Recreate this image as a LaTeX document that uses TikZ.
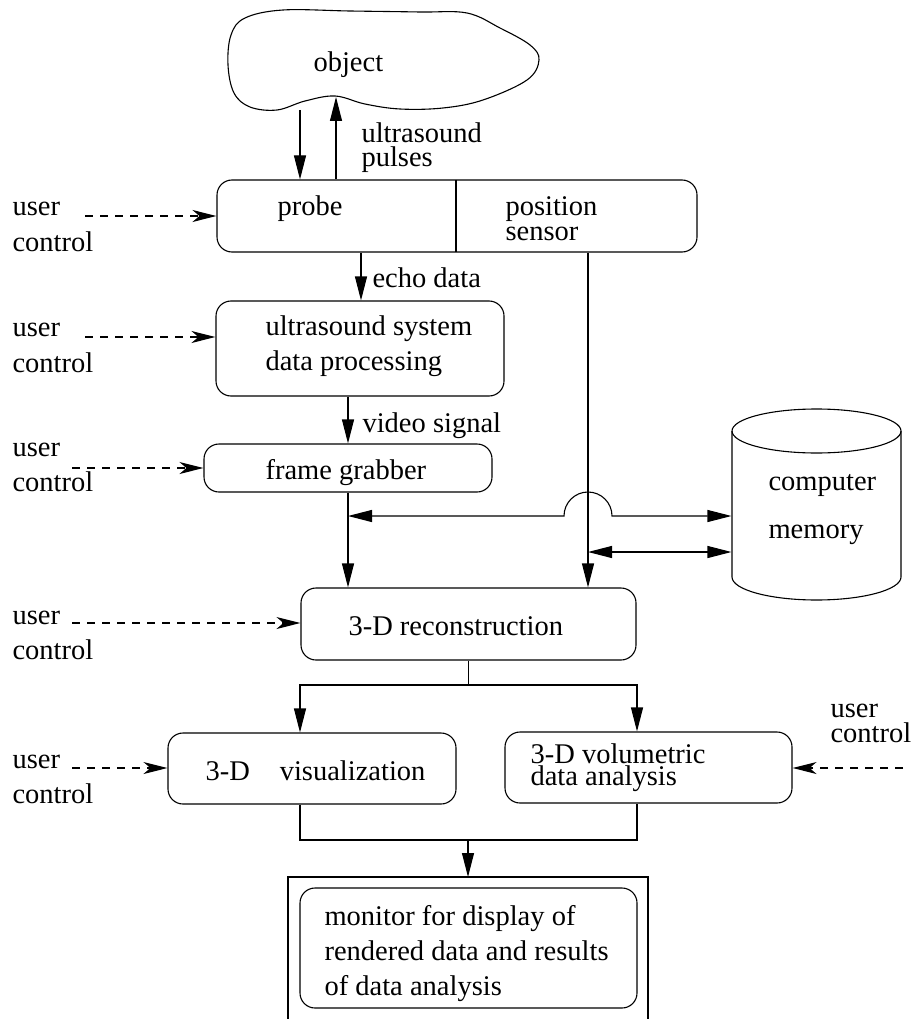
\documentclass[tikz,border=0pt]{standalone}
\usepackage{fontspec}
\setmainfont{Liberation Serif}
\usetikzlibrary{arrows.meta,calc}
\begin{document}
\begin{tikzpicture}[x=1pt,y=-1pt,line width=1.1pt,
  box/.style={draw,rounded corners=15pt,inner sep=0pt},
  txt/.style={anchor=base west,inner sep=0pt,font=\fontsize{28.5}{35}\selectfont},
  tight/.style={text depth=0pt},
  arr/.style={-{Triangle[length=24pt,width=12pt]}},
  darr/.style={{Triangle[length=24pt,width=12pt]}-{Triangle[length=24pt,width=12pt]}},
  uc/.style={dash pattern=on 8pt off 7pt,-{Stealth[length=24pt,width=12pt,inset=7pt]}}]
\useasboundingbox (0,0) rectangle (911,1019);

% object cloud
\draw plot[smooth cycle,tension=0.6] coordinates {(245,18) (283,10) (350,11) (420,12) (467,13) (500,28) (530,45) (539,60) (527,80) (483,100) (443,108) (400,109) (365,104) (335,96) (305,101) (277,110) (250,107) (234,93) (228,65) (231,35)};
\node[txt] (tobj) at (313,72) {object};
\coordinate (ob1) at (300,110);
\coordinate (ob2) at (336,97);

% boxes
\node[box,minimum width=480pt,minimum height=72pt] (probe) at (457,216) {};
\draw (456,180) -- (456,252);
\node[box,minimum width=288pt,minimum height=95pt] (us) at (360,348.5) {};
\node[box,minimum width=288pt,minimum height=48pt] (fg) at (348,468) {};
\node[box,minimum width=335pt,minimum height=72pt] (recon) at (468.5,624) {};
\node[box,minimum width=288pt,minimum height=71pt] (vis) at (312,768.5) {};
\node[box,minimum width=287pt,minimum height=71pt] (vol) at (648.5,767.5) {};
\node[box,minimum width=337pt,minimum height=120pt] (mon) at (468.5,948) {};
\coordinate (montop) at (468,877);
\draw (288,1019) -- (288,877) -- (648,877) -- (648,1019);

% computer memory cylinder
\node[minimum width=169pt,minimum height=192pt,inner sep=0pt] (mem) at (816.5,504) {};
\draw (816.5,431) ellipse [x radius=84.5pt,y radius=22pt];
\draw (732,431) -- (732,577) arc[start angle=180,end angle=360,x radius=84.5pt,y radius=23pt] -- (901,431);

% texts
\node[txt] (tprobe) at (277,215) {probe};
\node[txt,tight] (tpos1) at (505,215) {position};
\node[txt,text height=12pt] (tpos2) at (505,240) {sensor};
\node[txt,tight] (tus1) at (361,143) {ultrasound};
\node[txt,text height=12pt] (tus2) at (361,167) {pulses};
\node[txt] (techo) at (372,287) {echo data};
\node[txt] (tsys1) at (265,335) {ultrasound system};
\node[txt] (tsys2) at (265,370) {data processing};
\node[txt] (tvid) at (362,432) {video signal};
\node[txt] (tfg) at (265,479) {frame grabber};
\node[txt] (tcm1) at (768,490) {computer};
\node[txt] (tcm2) at (768,538) {memory};
\node[txt] (trec) at (348,635) {3-D reconstruction};
\node[txt] (tvis) at (205,780) {3-D\hspace{0.8em} visualization};
\node[txt,tight] (tvol1) at (530,763) {3-D volumetric};
\node[txt,text height=12pt] (tvol2) at (530,785) {data analysis};
\node[txt] (tmon1) at (324,925) {monitor for display of};
\node[txt] (tmon2) at (324,960) {rendered data and results};
\node[txt] (tmon3) at (324,995) {of data analysis};

% user controls
\node[txt] (u1a) at (12,215) {user};
\node[txt] (u1b) at (12,251) {control};
\node[txt] (u2a) at (12,336) {user};
\node[txt] (u2b) at (12,372) {control};
\node[txt] (u3a) at (12,456) {user};
\node[txt] (u3b) at (12,491) {control};
\node[txt] (u4a) at (12,624) {user};
\node[txt] (u4b) at (12,659) {control};
\node[txt] (u5a) at (12,768) {user};
\node[txt] (u5b) at (12,803) {control};
\node[txt] (u6a) at (830,717) {user};
\node[txt] (u6b) at (830,742) {control};

\coordinate (c1) at (85,216);
\coordinate (c2) at (85,337);
\coordinate (c3) at (72,468);
\coordinate (c4) at (72,623);
\coordinate (c5) at (72,768);
\coordinate (c6) at (903,768);
\draw[uc] (c1) -- (c1 -| probe.west);
\draw[uc] (c2) -- (c2 -| us.west);
\draw[uc] (c3) -- (c3 -| fg.west);
\draw[uc] (c4) -- (c4 -| recon.west);
\draw[uc] (c5) -- (c5 -| vis.west);
\draw[uc] (c6) -- (c6 -| vol.east);

% connectors
\draw[arr] (ob1) -- (ob1 |- probe.north);
\draw[arr] (ob2 |- probe.north) -- (ob2);
\coordinate (ex) at (361,0);
\draw[arr] (ex |- probe.south) -- (ex |- us.north);
\draw[arr] (fg.north |- us.south) -- (fg.north);
\draw[arr] (fg.south) -- (fg.south |- recon.north);
\coordinate (psx) at (588,0);
\draw[arr] (psx |- probe.south) -- (psx |- recon.north);
\coordinate (hL) at (348,516);
\coordinate (hop) at (588,516);
\draw[darr] (hL) -- ([xshift=-24pt]hop) arc[start angle=180,end angle=0,radius=24pt] -- (hop -| mem.west);
\coordinate (d2) at (588,552);
\draw[darr] (d2) -- (d2 -| mem.west);

\coordinate (spL) at (300,685);
\coordinate (spR) at (637,685);
\draw[arr] (recon.south) -- (recon.south |- spL) -| (spL |- vis.north);
\draw[arr] (recon.south |- spL) -| (spR |- vol.north);
\coordinate (jL) at (300,840);
\coordinate (jR) at (637,840);
\draw (jL |- vis.south) -- (jL) -- (jR) -- (jR |- vol.south);
\draw[arr] (montop |- jL) -- (montop);
\end{tikzpicture}
\end{document}
